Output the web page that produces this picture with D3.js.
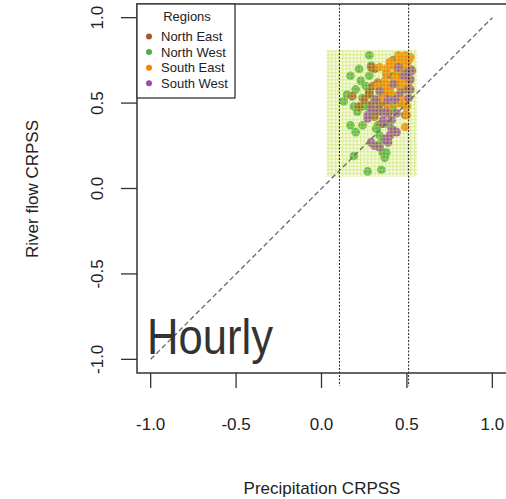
<!DOCTYPE html>
<html>
<head>
<meta charset="utf-8">
<script src="https://cdn.jsdelivr.net/npm/d3@7"></script>
<style>
  body { margin: 0; background: #fff; }
  text { font-family: "Liberation Sans", Arial, sans-serif; fill: #222; }
</style>
</head>
<body>
<div class="chart"></div>
<script>
// points: [precipitation CRPSS, river flow CRPSS]
const northWest = [[0.28,0.78],[0.29,0.72],[0.17,0.66],[0.23,0.63],[0.20,0.58],[0.28,0.57],[0.13,0.51],[0.19,0.48],
  [0.24,0.53],[0.24,0.48],[0.27,0.48],[0.21,0.45],[0.17,0.37],[0.24,0.37],[0.20,0.33],[0.19,0.19],[0.27,0.10],
  [0.35,0.11],[0.36,0.21],[0.33,0.37],[0.38,0.38],[0.34,0.31],[0.34,0.26],[0.38,0.21],[0.37,0.18],[0.28,0.66],
  [0.35,0.59],[0.31,0.52],[0.41,0.46],[0.42,0.48],[0.32,0.35],[0.38,0.28],[0.15,0.55],[0.22,0.70],[0.26,0.60],[0.30,0.45]];
const northEast = [[0.29,0.71],[0.18,0.54],[0.28,0.55],[0.22,0.48],[0.29,0.49],[0.30,0.60],[0.31,0.70],[0.28,0.56],
  [0.34,0.46],[0.38,0.50],[0.35,0.38],[0.42,0.34],[0.37,0.61],[0.46,0.71],[0.41,0.66],[0.44,0.61],[0.38,0.67],
  [0.49,0.58],[0.46,0.50],[0.34,0.49],[0.49,0.43],[0.33,0.45],[0.39,0.44],[0.36,0.55],[0.40,0.56],[0.33,0.62],
  [0.45,0.68],[0.25,0.52],[0.42,0.75],[0.31,0.42]];
const southEast = [[0.47,0.75],[0.51,0.75],[0.40,0.74],[0.34,0.71],[0.44,0.70],[0.37,0.63],[0.47,0.66],[0.51,0.62],
  [0.41,0.55],[0.35,0.53],[0.48,0.52],[0.50,0.48],[0.39,0.47],[0.50,0.43],[0.49,0.36],[0.40,0.31],[0.47,0.76],
  [0.39,0.71],[0.46,0.70],[0.50,0.63],[0.38,0.60],[0.44,0.54],[0.49,0.48],[0.42,0.72],[0.45,0.74],[0.48,0.70],
  [0.52,0.70],[0.38,0.68],[0.43,0.65],[0.46,0.60],[0.40,0.58],[0.44,0.50],[0.36,0.57],[0.47,0.64],[0.50,0.74],
  [0.33,0.60],[0.49,0.78],[0.52,0.77],[0.45,0.78],[0.42,0.62]];
const southWest = [[0.50,0.68],[0.52,0.58],[0.32,0.52],[0.35,0.45],[0.27,0.41],[0.36,0.40],[0.29,0.47],[0.41,0.35],
  [0.44,0.33],[0.40,0.31],[0.39,0.27],[0.31,0.25],[0.34,0.24],[0.37,0.29],[0.45,0.71],[0.53,0.69],[0.52,0.64],
  [0.42,0.61],[0.34,0.57],[0.43,0.52],[0.38,0.45],[0.44,0.44],[0.31,0.46],[0.27,0.43],[0.29,0.27],[0.36,0.38],
  [0.48,0.66],[0.39,0.52],[0.46,0.56],[0.41,0.40],[0.51,0.53]];

const regions = ["North East", "North West", "South East", "South West"];
const regionColors = ["#a65628", "#4daf4a", "#ff7f00", "#984ea3"];
const ticks = [-1.0, -0.5, 0.0, 0.5, 1.0];
const shadeX = [0.03, 0.56];   // hatched band
const shadeY = [0.07, 0.81];
const vLines = [0.105, 0.51];
const diagonal = [[-1, -1], [1, 1]];

(function() {

  let svgContainer = "";

  window.onload = function() {
    svgContainer = d3.select('.chart').append('svg')
      .attr('width', 506)
      .attr('height', 499);

    let xScale = d3.scaleLinear().domain([-1.08, 1.08]).range([137, 506]);
    let yScale = d3.scaleLinear().domain([-1.08, 1.08]).range([373, 4]);

    // cross hatch pattern
    let pat = svgContainer.append('defs').append('pattern')
      .attr('id', 'hatch')
      .attr('patternUnits', 'userSpaceOnUse')
      .attr('width', 3.6).attr('height', 3.6);
    pat.append('rect').attr('width', 3.6).attr('height', 1.3).attr('fill', '#c3df52');
    pat.append('rect').attr('width', 1.3).attr('height', 3.6).attr('fill', '#c3df52');

    let bx = xScale(shadeX[0]), bw = xScale(shadeX[1]) - xScale(shadeX[0]);
    let by = yScale(shadeY[1]), bh = yScale(shadeY[0]) - yScale(shadeY[1]);

    svgContainer.append('rect')
      .attr('x', bx).attr('y', by).attr('width', bw).attr('height', bh)
      .attr('fill', '#fafdee');

    // points, one group per region
    let series = [northEast, northWest, southEast, southWest];
    let drawOrder = [1, 0, 2, 3];
    drawOrder.forEach(function(i) {
      svgContainer.append('g').selectAll('circle')
        .data(series[i])
        .enter()
        .append('circle')
          .attr('cx', (d) => xScale(d[0]))
          .attr('cy', (d) => yScale(d[1]))
          .attr('r', 4.3)
          .attr('fill', regionColors[i])
          .attr('opacity', 0.92);
    });

    svgContainer.append('rect')
      .attr('x', bx).attr('y', by).attr('width', bw).attr('height', bh)
      .attr('fill', 'url(#hatch)')
      .attr('opacity', 0.55);

    // 1:1 line
    svgContainer.append('line')
      .attr('x1', xScale(diagonal[0][0])).attr('y1', yScale(diagonal[0][1]))
      .attr('x2', xScale(diagonal[1][0])).attr('y2', yScale(diagonal[1][1]))
      .attr('stroke', '#666')
      .attr('stroke-width', 1.3)
      .attr('stroke-dasharray', '5,3');

    // vertical reference lines
    svgContainer.selectAll('.vline')
      .data(vLines)
      .enter()
      .append('line')
        .attr('x1', (d) => xScale(d)).attr('x2', (d) => xScale(d))
        .attr('y1', 4).attr('y2', 386)
        .attr('stroke', '#222')
        .attr('stroke-width', 1)
        .attr('stroke-dasharray', '2,1.5');

    // plot box
    svgContainer.append('rect')
      .attr('x', 137).attr('y', 4).attr('width', 372).attr('height', 369)
      .attr('fill', 'none')
      .attr('stroke', '#333')
      .attr('stroke-width', 1.5);

    // x axis ticks and labels
    svgContainer.append('g').selectAll('line')
      .data(ticks).enter().append('line')
        .attr('x1', (d) => xScale(d)).attr('x2', (d) => xScale(d))
        .attr('y1', 373).attr('y2', 388)
        .attr('stroke', '#333').attr('stroke-width', 1.3);
    svgContainer.append('g').selectAll('text')
      .data(ticks).enter().append('text')
        .attr('x', (d) => xScale(d))
        .attr('y', 430)
        .attr('text-anchor', 'middle')
        .style('font-size', '17px')
        .text((d) => d.toFixed(1));

    // y axis ticks and labels
    svgContainer.append('g').selectAll('line')
      .data(ticks).enter().append('line')
        .attr('x1', 121).attr('x2', 137)
        .attr('y1', (d) => yScale(d)).attr('y2', (d) => yScale(d))
        .attr('stroke', '#333').attr('stroke-width', 1.3);
    svgContainer.append('g').selectAll('text')
      .data(ticks).enter().append('text')
        .attr('transform', (d) => 'translate(103,' + yScale(d) + ')rotate(-90)')
        .attr('text-anchor', 'middle')
        .style('font-size', '17px')
        .text((d) => d.toFixed(1));

    svgContainer.append('text')
      .attr('x', 322)
      .attr('y', 494)
      .attr('text-anchor', 'middle')
      .style('font-size', '17px')
      .text('Precipitation CRPSS');

    svgContainer.append('text')
      .attr('transform', 'translate(38,189)rotate(-90)')
      .attr('text-anchor', 'middle')
      .style('font-size', '17px')
      .text('River flow CRPSS');

    svgContainer.append('text')
      .attr('x', 147)
      .attr('y', 354)
      .attr('textLength', 126)
      .attr('lengthAdjust', 'spacingAndGlyphs')
      .style('font-size', '50px')
      .style('fill', '#333')
      .text('Hourly');

    // legend
    let legend = svgContainer.append('g');
    legend.append('rect')
      .attr('x', 137).attr('y', 4).attr('width', 98).attr('height', 94)
      .attr('fill', '#fff')
      .attr('stroke', '#333')
      .attr('stroke-width', 1.3);
    legend.append('text')
      .attr('x', 187).attr('y', 21)
      .attr('text-anchor', 'middle')
      .style('font-size', '13px')
      .text('Regions');
    let rows = legend.selectAll('.row')
      .data(regions)
      .enter()
      .append('g')
        .attr('transform', (d, i) => 'translate(0,' + (36.5 + i * 15.6) + ')');
    rows.append('circle')
      .attr('cx', 149).attr('cy', 0).attr('r', 3)
      .attr('fill', (d, i) => regionColors[i]);
    rows.append('text')
      .attr('x', 161).attr('y', 4.5)
      .style('font-size', '13px')
      .text((d) => d);
  }

})();
</script>
</body>
</html>
